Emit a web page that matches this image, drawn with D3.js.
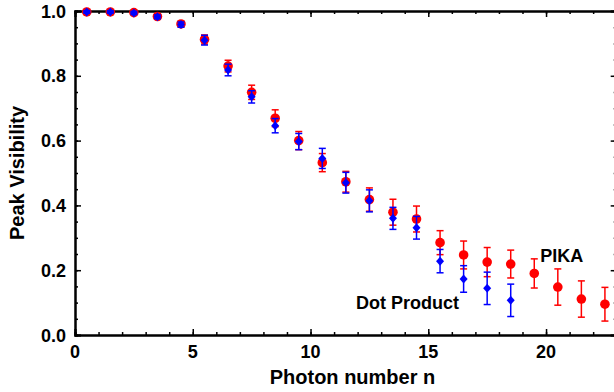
<!DOCTYPE html>
<html>
<head>
<meta charset="utf-8">
<script src="https://cdn.jsdelivr.net/npm/d3@7"></script>
<style>
  html, body { margin: 0; padding: 0; background: #fff; }
  svg { display: block; font-family: "Liberation Sans", Arial, sans-serif; font-weight: bold; }
</style>
</head>
<body>
<svg id="chart" width="614" height="392"></svg>
<script>
// photon number n (bin centres)
const photonN = [0.5, 1.5, 2.5, 3.5, 4.5, 5.5, 6.5, 7.5, 8.5, 9.5, 10.5, 11.5,
  12.5, 13.5, 14.5, 15.5, 16.5, 17.5, 18.5, 19.5, 20.5, 21.5, 22.5];

// PIKA peak visibility and error
const pikaV = [0.997, 0.997, 0.995, 0.983, 0.960, 0.912, 0.830, 0.749, 0.669, 0.600,
  0.532, 0.473, 0.418, 0.379, 0.358, 0.285, 0.247, 0.225, 0.219, 0.190, 0.148, 0.111, 0.095];
const pikaErr = [0.004, 0.004, 0.005, 0.006, 0.008, 0.014, 0.018, 0.022, 0.026, 0.028,
  0.028, 0.032, 0.036, 0.040, 0.040, 0.037, 0.043, 0.045, 0.043, 0.045, 0.056, 0.056, 0.052];

// Dot Product peak visibility and error
const dotV = [0.997, 0.997, 0.994, 0.982, 0.958, 0.910, 0.818, 0.735, 0.646, 0.597,
  0.545, 0.470, 0.414, 0.360, 0.331, 0.228, 0.173, 0.144, 0.107];
const dotErr = [0.004, 0.004, 0.005, 0.006, 0.008, 0.015, 0.018, 0.019, 0.022, 0.025,
  0.031, 0.032, 0.034, 0.034, 0.035, 0.036, 0.041, 0.050, 0.050];

const xTicks = [0, 5, 10, 15, 20];
const yTicks = [0.0, 0.2, 0.4, 0.6, 0.8, 1.0];

const svg = d3.select("#chart");
const mLeft = 75, mRight = 616.7, mTop = 11, mBottom = 335;

const x = d3.scaleLinear().domain([0, 23]).range([mLeft, mRight]);
const y = d3.scaleLinear().domain([0, 1]).range([mBottom, mTop]);

// Axes: ticks point inward
const minorX = d3.range(0, 24, 1);
const minorY = d3.range(0, 1.0001, 0.05);

const axBottom = svg.append("g").attr("transform", `translate(0,${mBottom})`);
axBottom.call(d3.axisTop(x).tickValues(minorX).tickSize(3).tickFormat(""));
axBottom.append("g").call(d3.axisTop(x).tickValues(xTicks).tickSize(6).tickFormat(""));
const axTop = svg.append("g").attr("transform", `translate(0,${mTop})`);
axTop.call(d3.axisBottom(x).tickValues(minorX).tickSize(3).tickFormat(""));
axTop.append("g").call(d3.axisBottom(x).tickValues(xTicks).tickSize(6).tickFormat(""));
const axLeft = svg.append("g").attr("transform", `translate(${mLeft},0)`);
axLeft.call(d3.axisRight(y).tickValues(minorY).tickSize(3).tickFormat(""));
axLeft.append("g").call(d3.axisRight(y).tickValues(yTicks).tickSize(6).tickFormat(""));
const axRight = svg.append("g").attr("transform", `translate(${mRight},0)`);
axRight.call(d3.axisLeft(y).tickValues(minorY).tickSize(3).tickFormat(""));
axRight.append("g").call(d3.axisLeft(y).tickValues(yTicks).tickSize(6).tickFormat(""));

svg.selectAll(".domain").attr("stroke", "#000").attr("stroke-width", 2);
svg.selectAll(".tick line").attr("stroke", "#000").attr("stroke-width", 1.5);

// Tick labels
svg.append("g").selectAll("text").data(xTicks).join("text")
  .attr("x", d => x(d)).attr("y", mBottom + 23)
  .attr("text-anchor", "middle").attr("font-size", 18)
  .text(d => d);
svg.append("g").selectAll("text").data(yTicks).join("text")
  .attr("x", mLeft - 9).attr("y", d => y(d) + 6.5)
  .attr("text-anchor", "end").attr("font-size", 18)
  .text(d => d.toFixed(1));

// Axis titles
svg.append("text")
  .attr("x", (mLeft + 614) / 2 + 8).attr("y", mBottom + 49)
  .attr("text-anchor", "middle").attr("font-size", 20)
  .text("Photon number n");
svg.append("text")
  .attr("transform", `translate(24,${(mTop + mBottom) / 2}) rotate(-90)`)
  .attr("text-anchor", "middle").attr("font-size", 20)
  .text("Peak Visibility");

// Error bars + markers
function drawSeries(vals, errs, color) {
  const g = svg.append("g");
  const pts = vals.map((v, i) => ({ n: photonN[i], v: v, e: errs[i] }));
  g.selectAll("line.bar").data(pts).join("line")
    .attr("x1", d => x(d.n)).attr("x2", d => x(d.n))
    .attr("y1", d => y(d.v - d.e)).attr("y2", d => y(d.v + d.e))
    .attr("stroke", color).attr("stroke-width", 1.5);
  [1, -1].forEach(s => {
    g.append("g").selectAll("line").data(pts).join("line")
      .attr("x1", d => x(d.n) - 3.5).attr("x2", d => x(d.n) + 3.5)
      .attr("y1", d => y(d.v + s * d.e)).attr("y2", d => y(d.v + s * d.e))
      .attr("stroke", color).attr("stroke-width", 1.5);
  });
  return { g, pts };
}

const red = drawSeries(pikaV, pikaErr, "#ff0000");
red.g.selectAll("circle").data(red.pts).join("circle")
  .attr("cx", d => x(d.n)).attr("cy", d => y(d.v)).attr("r", 4.8)
  .attr("fill", "#ff0000");

const blue = drawSeries(dotV, dotErr, "#0000ff");
blue.g.selectAll("path.m").data(blue.pts).join("path")
  .attr("class", "m")
  .attr("transform", d => `translate(${x(d.n)},${y(d.v)})`)
  .attr("d", "M0,-4.5L4,0L0,4.5L-4,0Z")
  .attr("fill", "#0000ff");

// Series labels
svg.append("text").attr("x", x(19.75)).attr("y", y(0.225))
  .attr("font-size", 18).text("PIKA");
svg.append("text").attr("x", x(16.3)).attr("y", y(0.080))
  .attr("text-anchor", "end")
  .attr("font-size", 18).text("Dot Product");
</script>
</body>
</html>
